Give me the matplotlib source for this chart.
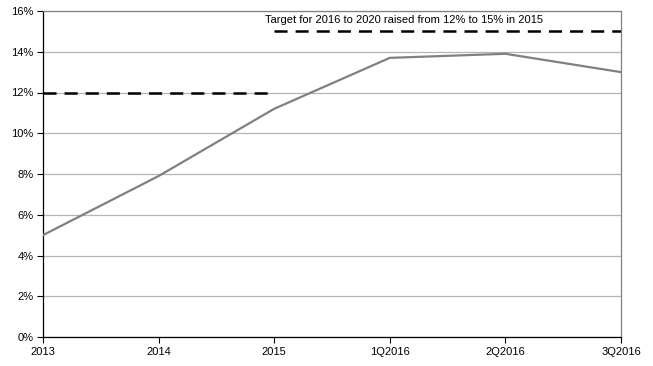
import numpy as np
import matplotlib.pyplot as plt

plt.rcParams['font.family'] = ['Liberation Sans', 'DejaVu Sans']
plt.rcParams['lines.scale_dashes'] = False

# data
periods = ['2013', '2014', '2015', '1Q2016', '2Q2016', '3Q2016']
share = [5.0, 7.9, 11.2, 13.7, 13.9, 13.0]
target_old_x = ['2013', '2015']
target_old = [12, 12]
target_new_x = ['2015', '3Q2016']
target_new = [15, 15]
note = 'Target for 2016 to 2020 raised from 12% to 15% in 2015'
yticks = np.arange(0, 16.1, 2)

fig = plt.figure(figsize=(6.53, 3.66), dpi=100)
ax = fig.add_axes([43/653, 29/366, 578/653, 326/366])

xpos = {p: i for i, p in enumerate(periods)}
ax.plot(range(len(periods)), share, color='#808080', lw=1.6, zorder=3)
ax.plot([xpos[p] for p in target_old_x], target_old, color='black', lw=1.8,
        dashes=(9.4, 5.8), zorder=3)
ax.plot([xpos[p] for p in target_new_x], target_new, color='black', lw=1.8,
        dashes=(9.4, 5.8), zorder=3)
ax.text(xpos['2015'] - 0.08, 15.3, note, fontsize=8, va='bottom', ha='left')

ax.set_xlim(0, len(periods) - 1)
ax.set_ylim(0, 16)
ax.set_xticks(range(len(periods)))
ax.set_xticklabels(periods, fontsize=8)
ax.set_yticks(yticks)
ax.set_yticklabels(['%d%%' % v for v in yticks], fontsize=8)
ax.tick_params(direction='out', length=4, width=0.8, pad=3)
ax.grid(axis='y', color='#b4b4b4', lw=0.9)
ax.set_axisbelow(True)
for s in ['top', 'right']:
    ax.spines[s].set_color('#808080')
    ax.spines[s].set_linewidth(0.9)
for s in ['left', 'bottom']:
    ax.spines[s].set_color('black')
    ax.spines[s].set_linewidth(0.9)

fig.savefig('out.png', dpi=100)
